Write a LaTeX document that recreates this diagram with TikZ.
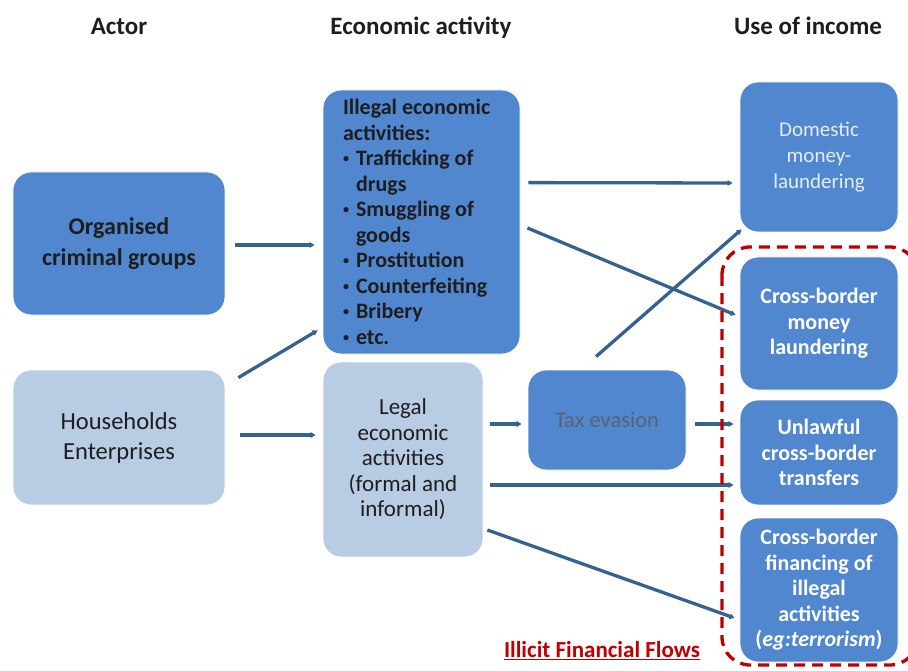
\documentclass[tikz,border=0pt]{standalone}
\usepackage{fontspec}
\usepackage{graphicx}
\setmainfont{Carlito}
\usetikzlibrary{arrows.meta,calc}

\definecolor{boxdark}{HTML}{5087CF}
\definecolor{boxlight}{HTML}{B8CCE4}
\definecolor{flow}{HTML}{35628F}
\definecolor{iffred}{HTML}{C00000}
\definecolor{darktext}{HTML}{1E1E1E}
\definecolor{greytext}{HTML}{5A6470}
\definecolor{palefont}{HTML}{E6EDF6}

% small bullet for the list of illegal activities
\newcommand{\lbul}{\makebox[13pt][l]{\raisebox{3pt}{\scalebox{0.55}{\textbullet}}}}

\begin{document}
\begin{tikzpicture}[x=1pt,y=-1pt,
  darkbox/.style={draw=white, line width=0.8pt, fill=boxdark, rounded corners=18pt,
                  align=center, inner sep=0pt},
  lightbox/.style={darkbox, fill=boxlight},
  flowarrow/.style={draw=flow, line width=3.3pt, -{Triangle[length=5pt,width=5.5pt]}},
  header/.style={font=\bfseries\fontsize{25}{30}\selectfont, text=darktext, anchor=base},
  boldtext/.style={font=\bfseries\fontsize{22}{25.5}\selectfont},
]
\useasboundingbox (0,0) rectangle (908,671);

% column headings
\node[header] (hActor) at (119,35) {Actor};
\node[header] (hEcon)  at (421,35) {Economic activity};
\node[header] (hUse)   at (808,35) {Use of income};

% actors
\node[darkbox, minimum width=212pt, minimum height=143pt, text=darktext,
      font=\bfseries\fontsize{24}{31}\selectfont] (org) at (119,243.5)
      {Organised\\criminal groups};
\node[lightbox, minimum width=212pt, minimum height=135pt, text=darktext,
      font=\fontsize{24.5}{30}\selectfont] (hh) at (119,437.5)
      {Households\\Enterprises};

% economic activities
\node[darkbox, minimum width=197pt, minimum height=264pt, text=darktext,
      text width=157pt, align=flush left, boldtext] (ill) at (421.5,222)
      {Illegal economic\\activities:\\
       \lbul Trafficking of\\\hspace*{13pt}drugs\\
       \lbul Smuggling of\\\hspace*{13pt}goods\\
       \lbul Prostitution\\
       \lbul Counterfeiting\\
       \lbul Bribery\\
       \lbul etc.};
\node[lightbox, minimum width=160pt, minimum height=195pt, text=darktext,
      font=\fontsize{23}{25.5}\selectfont] (leg) at (403,459.5)
      {Legal\\economic\\activities\\(formal and\\informal)};
\node[darkbox, minimum width=158pt, minimum height=100pt, text=greytext,
      font=\fontsize{22.5}{26}\selectfont] (tax) at (607,420) {Tax evasion};

% uses of income
\node[darkbox, minimum width=158pt, minimum height=150pt, text=palefont,
      font=\fontsize{21}{26}\selectfont] (dom) at (819,157)
      {Domestic\\money-\\laundering};
\node[darkbox, minimum width=158pt, minimum height=133pt, text=white, boldtext]
      (cbml) at (819,323.5) {Cross-border\\money\\laundering};
\node[darkbox, minimum width=158pt, minimum height=105pt, text=white, boldtext]
      (unl) at (819,452.5) {Unlawful\\cross-border\\transfers};
\node[darkbox, minimum width=158pt, minimum height=144pt, text=white, boldtext]
      (cbf) at (819,590) {Cross-border\\financing of\\illegal\\activities\\(\textit{eg:terrorism})};

% flows
\draw[flowarrow] ($(org.east)+(10,1.5)$) -- ($(org.east -| ill.west)+(-8,1.5)$);
\draw[flowarrow] ($(hh.north east)+(13,8)$) -- ($(ill.south west)+(-5,-24)$);
\draw[flowarrow] ($(hh.east)+(15,-2.5)$) -- ($(hh.east -| leg.west)+(-7,-2.5)$);
\draw[flowarrow] ($(ill.north east)+(8,93)$) -- ($(dom.west)+(-7,26)$);
\draw[flowarrow] ($(ill.east)+(7,6)$) -- ($(cbml.west)+(-4,-8.5)$);
\draw[flowarrow] ($(tax.north)+(-11,-13)$) -- ($(dom.south west)+(2,-3)$);
\draw[flowarrow] ($(leg.east)+(7,-35.5)$) -- ($(tax.west)+(-6,4)$);
\draw[flowarrow] ($(tax.east)+(9,4)$) -- ($(unl.west)+(-6,-28.5)$);
\draw[flowarrow] ($(leg.east)+(7,25.5)$) -- ($(unl.west)+(-6,32.5)$);
\draw[flowarrow] ($(leg.east)+(4,70.5)$) -- ($(cbf.west)+(-5,28)$);

% boundary of illicit financial flows
\draw[iffred, line width=3.3pt, dash pattern=on 11pt off 7pt, rounded corners=28pt]
      (722,247) rectangle (918,665);
\node[text=iffred, font=\bfseries\fontsize{23}{26}\selectfont] (iff) at (602,651)
      {\underline{Illicit Financial Flows}};
\end{tikzpicture}
\end{document}
